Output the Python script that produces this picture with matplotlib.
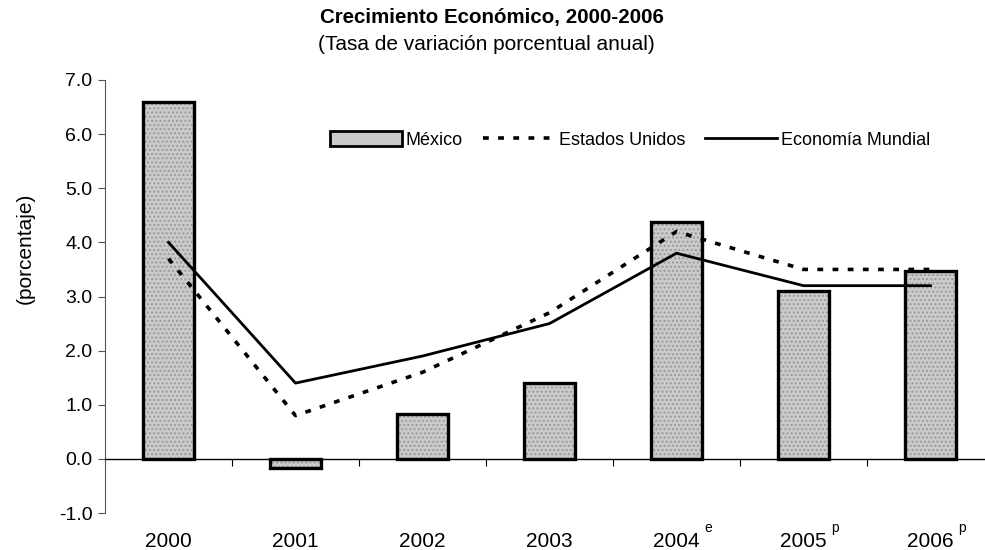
import matplotlib
matplotlib.use("Agg")
import matplotlib.pyplot as plt
from matplotlib.patches import Patch
from matplotlib.lines import Line2D
from matplotlib.ticker import FormatStrFormatter

plt.rcParams.update({
    "font.family": ["Liberation Sans", "DejaVu Sans"],
})

years = ["2000", "2001", "2002", "2003", "2004", "2005", "2006"]
marks = ["", "", "", "", "e", "p", "p"]
mexico = [6.6, -0.17, 0.83, 1.41, 4.38, 3.1, 3.47]
eeuu = [3.7, 0.8, 1.6, 2.7, 4.2, 3.5, 3.5]
mundial = [4.0, 1.4, 1.9, 2.5, 3.8, 3.2, 3.2]

W, H = 985, 550
fig = plt.figure(figsize=(W / 100, H / 100), dpi=100)
ax = fig.add_axes([105 / W, 37 / H, 880 / W, 433 / H])

x = list(range(len(years)))
ax.bar(x, mexico, width=0.4, color="#cbcbcb", hatch="....",
       edgecolor="#9a9a9a", linewidth=0, zorder=2)
ax.bar(x, mexico, width=0.4, fill=False, edgecolor="black",
       linewidth=2.4, zorder=3)
ax.plot(x, eeuu, color="black", lw=2.6, ls=(0, (1.6, 2.6)), zorder=4)
ax.plot(x, mundial, color="black", lw=2.0, zorder=4)

ax.set_xlim(-0.5, -0.5 + 880 / 127)
ax.set_ylim(-1, 7)
ax.set_yticks(range(-1, 8))
ax.yaxis.set_major_formatter(FormatStrFormatter("%.1f"))
ax.tick_params(axis="y", direction="out", length=5, width=0.8,
               color="#555555", labelsize=14, pad=4)
ax.set_xticks([i + 0.5 for i in range(6)])
ax.set_xticklabels([])
ax.tick_params(axis="x", direction="out", length=5, width=0.8)

for s in ("top", "right"):
    ax.spines[s].set_visible(False)
ax.spines["left"].set_color("#555555")
ax.spines["left"].set_linewidth(0.8)
ax.spines["bottom"].set_position(("data", 0))
ax.spines["bottom"].set_linewidth(1.0)

for xi, yr, m in zip(x, years, marks):
    ax.text(xi, -1.52, yr, ha="center", va="center", fontsize=15,
            clip_on=False)
    if m:
        ax.text(xi + 0.25, -1.27, m, ha="center", va="center",
                fontsize=10, clip_on=False)

fig.text(492 / W, 1 - 18 / H, "Crecimiento Económico, 2000-2006",
         ha="center", va="center", fontsize=14.8, weight="bold")
fig.text(486 / W, 1 - 45 / H, "(Tasa de variación porcentual anual)",
         ha="center", va="center", fontsize=15)
fig.text(25 / W, 1 - 248 / H, "(porcentaje)", rotation=90,
         ha="center", va="center", fontsize=15)

handles = [
    Patch(facecolor="#cbcbcb", edgecolor="black", linewidth=2),
    Line2D([], [], color="black", lw=2.6, ls=(0, (1.6, 2.6))),
    Line2D([], [], color="black", lw=2.0),
]
fig.legend(handles, ["México", "Estados Unidos", "Economía Mundial"],
           loc="center", bbox_to_anchor=(630 / W, 1 - 140 / H), ncol=3,
           frameon=False, fontsize=13, handlelength=4.0, handleheight=0.9,
           handletextpad=0.2, columnspacing=1.1)

fig.savefig("out.png", dpi=100, facecolor="white")
